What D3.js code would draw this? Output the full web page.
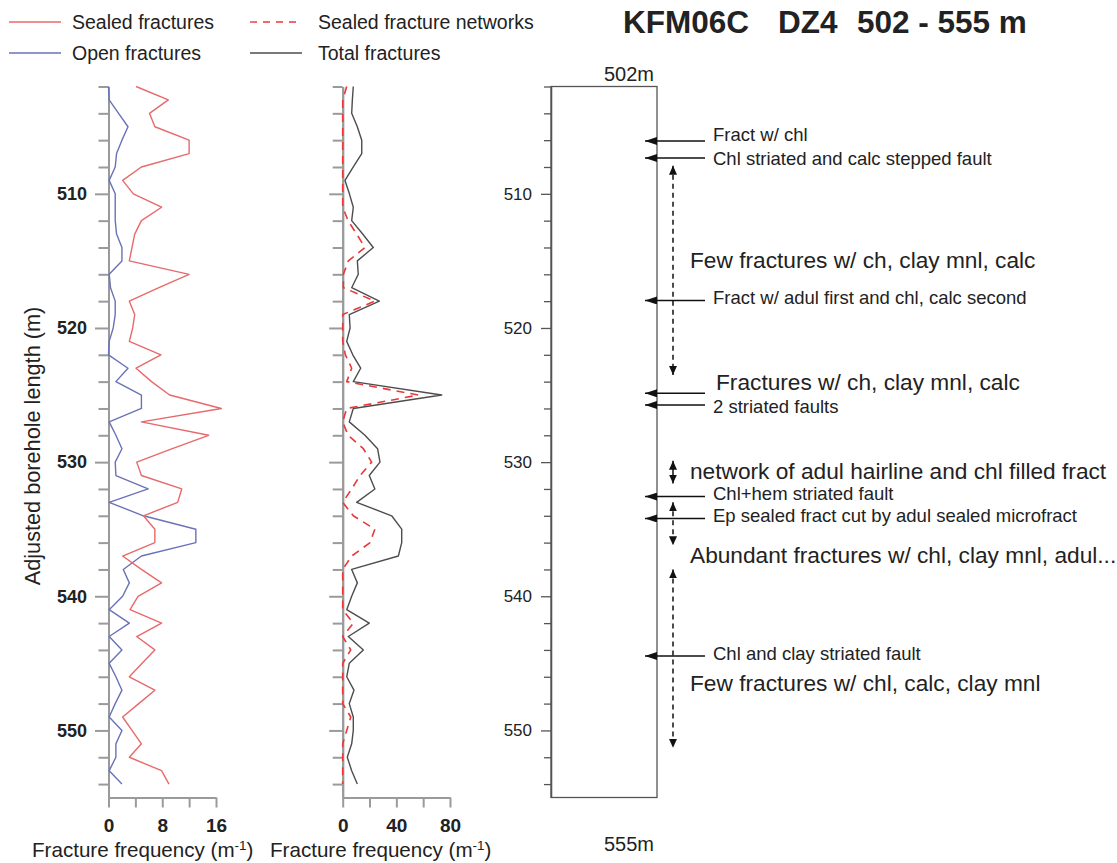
<!DOCTYPE html>
<html>
<head>
<meta charset="utf-8">
<script src="https://cdn.jsdelivr.net/npm/d3@7"></script>
<style>
  body { margin: 0; background: #fff; }
  text { font-family: "Liberation Sans", Arial, sans-serif; fill: #222; }
</style>
</head>
<body>
<svg id="chart"></svg>
<script>
// Profondeurs (m) et fréquences
const depths = [502, 503, 504, 505, 506, 507, 508, 509, 510, 511, 512, 513, 514, 515, 516, 517, 518, 519,
  520, 521, 522, 523, 524, 525, 526, 527, 528, 529, 530, 531, 532, 533, 534, 535, 536, 537,
  538, 539, 540, 541, 542, 543, 544, 545, 546, 547, 548, 549, 550, 551, 552, 553, 554];

const sealed = [4.1, 8.9, 6.1, 6.9, 12.0, 12.0, 4.9, 2.1, 3.7, 7.9, 4.9, 3.9, 3.5, 3.1, 12.0, 7.5, 3.1, 3.9,
  3.6, 3.1, 7.8, 4.1, 6.4, 9.1, 16.8, 4.9, 14.9, 9.5, 4.2, 4.9, 10.9, 10.3, 5.2, 6.9, 6.9, 2.1,
  4.9, 7.9, 4.4, 3.2, 7.9, 4.2, 6.9, 5.0, 3.1, 6.9, 4.5, 2.1, 3.5, 4.9, 3.1, 7.9, 9.0];

const open = [0, 0.1, 1.5, 2.9, 2.0, 1.2, 1.0, 0.1, 1.0, 1.0, 1.0, 1.2, 2.0, 2.0, 0.1, 0.3, 1.0, 1.0,
  0.7, 0.1, 0, 2.9, 1.1, 4.9, 4.9, 0.1, 1.1, 2.0, 1.0, 1.1, 5.9, 0.1, 5.2, 13.0, 13.0, 4.9,
  2.2, 3.1, 2.1, 0.1, 3.1, 0.1, 2.0, 0.1, 1.1, 2.0, 1.0, 0.1, 2.0, 1.1, 1.1, 0.1, 2.0];

const networks = [3, 0, 0, 0, 0, 0, 0, 0, 0, 0, 4, 10.4, 16.6, 4.2, 0.5, 0.5, 24, 0,
  0, 0, 2, 6.7, 3.0, 56.4, 3.0, 0, 4, 15.4, 21.6, 12.9, 6.7, 0, 7.9, 24, 20.4, 6.7,
  0, 0, 0, 0, 7.9, 0, 6, 0, 0, 0, 0, 6, 3, 0, 0, 0, 0];

const total = [7.9, 7.2, 6.7, 10.9, 14.2, 14.2, 7.9, 1.7, 5.0, 7.9, 6.7, 14.9, 22.8, 10.9, 11.6, 6.7, 27.3, 4.9,
  5.5, 3.0, 7.5, 13.4, 7.9, 73.8, 7.9, 4.9, 16.6, 26, 27.8, 19.8, 24, 10.4, 36.5, 44, 44, 41.5,
  6.7, 10.9, 6.7, 3.0, 19.8, 4.2, 15.4, 4.9, 3.0, 8.4, 4.9, 7.9, 7.9, 6.7, 3.4, 6.7, 10.9];

// Graduations
const depthMinorTicks = [502, 504, 506, 508, 512, 514, 516, 518, 522, 524, 526, 528, 532, 534, 536, 538,
  542, 544, 546, 548, 552, 554];
const depthMajorTicks = [510, 520, 530, 540, 550];
const leftTicks = [0, 4, 8, 12, 16];
const leftLabels = [0, 8, 16];
const midTicks = [0, 20, 40, 60, 80];
const midLabels = [0, 40, 80];

// Annotations de la colonne de droite
const faultNotes = [
  { depth: 506.06, text: "Fract w/ chl" },
  { depth: 507.33, text: "Chl striated and calc stepped fault" },
  { depth: 517.95, text: "Fract w/ adul first and chl, calc second" },
  { depth: 524.87, text: "" },
  { depth: 525.74, text: "2 striated faults" },
  { depth: 532.57, text: "Chl+hem striated fault" },
  { depth: 534.2, text: "Ep sealed fract cut by adul sealed microfract" },
  { depth: 544.45, text: "Chl and clay striated fault" }
];
const zoneNotes = [
  { depth: 515.06, text: "Few fractures w/ ch, clay mnl, calc" },
  { depth: 530.83, text: "network of adul hairline and chl filled fract" },
  { depth: 537.05, text: "Abundant fractures w/ chl, clay mnl, adul..." },
  { depth: 546.6, text: "Few fractures w/ chl, calc, clay mnl" }
];
const headNote = { depth: 524.15, text: "Fractures w/ ch, clay mnl, calc" };
const dashedRanges = [[507.9, 523.5], [533.0, 536.2], [538.0, 551.3]];
const solidRanges = [[529.9, 531.6]];

// décalage vertical des petites étiquettes par rapport à leur flèche
const noteShift = { "Fract w/ chl": -4.5, "Chl striated and calc stepped fault": 2.5, "2 striated faults": 3 };

const svg = d3.select("#chart").attr("width", 1117).attr("height", 863);

// Échelles
const y = d3.scaleLinear().domain([502, 555]).range([86.5, 797.5]);
const xLeft = d3.scaleLinear().domain([0, 16]).range([108.5, 216]);
const xMid = d3.scaleLinear().domain([0, 80]).range([342.7, 450]);

const axisColor = "#9a9a9a";

// Flèches
const defs = svg.append("defs");
defs.append("marker")
  .attr("id", "head")
  .attr("viewBox", "0 0 12 8")
  .attr("refX", 12).attr("refY", 4)
  .attr("markerUnits", "userSpaceOnUse")
  .attr("markerWidth", 12).attr("markerHeight", 8)
  .attr("orient", "auto-start-reverse")
  .append("path").attr("d", "M0,0 L12,4 L0,8 z").attr("fill", "#111");
defs.append("marker")
  .attr("id", "headSmall")
  .attr("viewBox", "0 0 9 8")
  .attr("refX", 9).attr("refY", 4)
  .attr("markerUnits", "userSpaceOnUse")
  .attr("markerWidth", 9).attr("markerHeight", 8)
  .attr("orient", "auto-start-reverse")
  .append("path").attr("d", "M0,0 L9,4 L0,8 z").attr("fill", "#111");

function depthAxis(x0, major, labels, color, width) {
  const minor = d3.axisLeft(y).tickValues(depthMinorTicks).tickSize(major ? 10 : 7)
    .tickSizeOuter(0).tickFormat("");
  const g1 = svg.append("g").attr("transform", `translate(${x0},0)`).call(minor);
  const maj = d3.axisLeft(y).tickValues(depthMajorTicks).tickSize(major ? 13.5 : 10)
    .tickSizeOuter(0).tickPadding(major ? 8 : 9).tickFormat(labels ? d3.format("d") : "");
  const g2 = svg.append("g").attr("transform", `translate(${x0},0)`).call(maj);
  [g1, g2].forEach(g => {
    g.selectAll("line").attr("stroke", color).attr("stroke-width", width);
    g.select(".domain").attr("stroke", color).attr("stroke-width", width);
    g.selectAll("text").attr("fill", "#222")
      .attr("font-family", "'Liberation Sans', Arial, sans-serif");
  });
  return g2;
}

function freqAxis(scale, ticks, labels) {
  const ax = d3.axisBottom(scale).tickValues(ticks).tickSize(10).tickSizeOuter(0)
    .tickPadding(11).tickFormat(d => labels.includes(d) ? d : "");
  const g = svg.append("g").attr("transform", `translate(0,${y(555)})`).call(ax);
  g.selectAll("line").attr("stroke", axisColor).attr("stroke-width", 2);
  g.select(".domain").attr("stroke", axisColor).attr("stroke-width", 2);
  g.selectAll("text").attr("font-size", 19).attr("font-weight", "bold")
    .attr("font-family", "'Liberation Sans', Arial, sans-serif").attr("fill", "#222");
}

// Panneau gauche
const leftAxis = depthAxis(xLeft(0), true, true, axisColor, 2);
leftAxis.selectAll("text").attr("font-size", 18).attr("font-weight", "bold");
freqAxis(xLeft, leftTicks, leftLabels);

// Panneau central
depthAxis(xMid(0), true, false, axisColor, 2);
freqAxis(xMid, midTicks, midLabels);

const rows = depths.map((d, i) => ({
  depth: d, sealed: sealed[i], open: open[i], networks: networks[i], total: total[i]
}));

function drawLine(scale, key, color, dash, width) {
  svg.append("path")
    .datum(rows)
    .attr("fill", "none")
    .attr("stroke", color)
    .attr("stroke-width", width)
    .attr("stroke-dasharray", dash)
    .attr("stroke-linejoin", "round")
    .attr("d", d3.line().x(d => scale(d[key])).y(d => y(d.depth)));
}

drawLine(xLeft, "open", "#6a72b8", null, 1.4);
drawLine(xLeft, "sealed", "#e8696b", null, 1.4);
drawLine(xMid, "total", "#4d4d4d", null, 1.4);
drawLine(xMid, "networks", "#e8383a", "8,6", 1.6);

// Titres des axes
function freqTitle(x) {
  const t = svg.append("text").attr("x", x).attr("y", 857).attr("font-size", 20.6);
  t.append("tspan").text("Fracture frequency (m");
  t.append("tspan").attr("dy", -7).attr("font-size", 13.5).text("-1");
  t.append("tspan").attr("dy", 7).text(")");
}
freqTitle(32);
freqTitle(270);

svg.append("text")
  .attr("transform", "translate(40,446) rotate(-90)")
  .attr("text-anchor", "middle")
  .attr("font-size", 21.7)
  .text("Adjusted borehole length (m)");

// Légende
const legendItems = [
  { label: "Sealed fractures", color: "#e8696b", dash: null, x: 9, y: 22 },
  { label: "Open fractures", color: "#6a72b8", dash: null, x: 9, y: 53 },
  { label: "Sealed fracture networks", color: "#e8383a", dash: "7,6", x: 250, y: 22 },
  { label: "Total fractures", color: "#4d4d4d", dash: null, x: 250, y: 53 }
];
legendItems.forEach(it => {
  svg.append("line")
    .attr("x1", it.x).attr("x2", it.x + 52)
    .attr("y1", it.y).attr("y2", it.y)
    .attr("stroke", it.color).attr("stroke-width", 1.4)
    .attr("stroke-dasharray", it.dash);
  svg.append("text")
    .attr("x", it.x < 100 ? 72 : 318).attr("y", it.y + 7)
    .attr("font-size", 19.5)
    .text(it.label);
});

// Titre
svg.append("text").attr("x", 623).attr("y", 33).attr("font-size", 31.5).attr("font-weight", "bold").text("KFM06C");
svg.append("text").attr("x", 778).attr("y", 33).attr("font-size", 31.5).attr("font-weight", "bold").text("DZ4");
svg.append("text").attr("x", 857).attr("y", 33).attr("font-size", 31.5).attr("font-weight", "bold").text("502 - 555 m");

// Colonne de droite
const colLeft = 551, colRight = 657;
const rightAxis = depthAxis(colLeft, false, true, "#555", 1.3);
rightAxis.selectAll("text").attr("font-size", 17);

svg.append("rect")
  .attr("x", colLeft).attr("y", y(502))
  .attr("width", colRight - colLeft).attr("height", y(555) - y(502))
  .attr("fill", "none").attr("stroke", "#555").attr("stroke-width", 1.3);

svg.append("text").attr("x", 629).attr("y", y(502) - 6).attr("text-anchor", "middle")
  .attr("font-size", 20).text("502m");
svg.append("text").attr("x", 629).attr("y", 851).attr("text-anchor", "middle")
  .attr("font-size", 20).text("555m");

// Failles et fractures ponctuelles
faultNotes.forEach(n => {
  svg.append("line")
    .attr("x1", 705).attr("x2", 645)
    .attr("y1", y(n.depth)).attr("y2", y(n.depth))
    .attr("stroke", "#111").attr("stroke-width", 1.5)
    .attr("marker-end", "url(#head)");
  if (n.text) {
    const shift = noteShift[n.text] !== undefined ? noteShift[n.text] : -1;
    svg.append("text")
      .attr("x", 713).attr("y", y(n.depth) + shift)
      .attr("dominant-baseline", "middle")
      .attr("font-size", 18.5)
      .text(n.text);
  }
});

// Intervalles
dashedRanges.forEach(r => {
  svg.append("line")
    .attr("x1", 673).attr("x2", 673)
    .attr("y1", y(r[0])).attr("y2", y(r[1]))
    .attr("stroke", "#111").attr("stroke-width", 1.5)
    .attr("stroke-dasharray", "5,4")
    .attr("marker-start", "url(#headSmall)")
    .attr("marker-end", "url(#headSmall)");
});
solidRanges.forEach(r => {
  svg.append("line")
    .attr("x1", 673).attr("x2", 673)
    .attr("y1", y(r[0])).attr("y2", y(r[1]))
    .attr("stroke", "#111").attr("stroke-width", 1.5)
    .attr("marker-start", "url(#headSmall)")
    .attr("marker-end", "url(#headSmall)");
});

zoneNotes.forEach(n => {
  svg.append("text")
    .attr("x", 690).attr("y", y(n.depth))
    .attr("dominant-baseline", "middle")
    .attr("font-size", 22.7)
    .text(n.text);
});
svg.append("text")
  .attr("x", 716).attr("y", y(headNote.depth))
  .attr("dominant-baseline", "middle")
  .attr("font-size", 22.7)
  .text(headNote.text);
</script>
</body>
</html>
